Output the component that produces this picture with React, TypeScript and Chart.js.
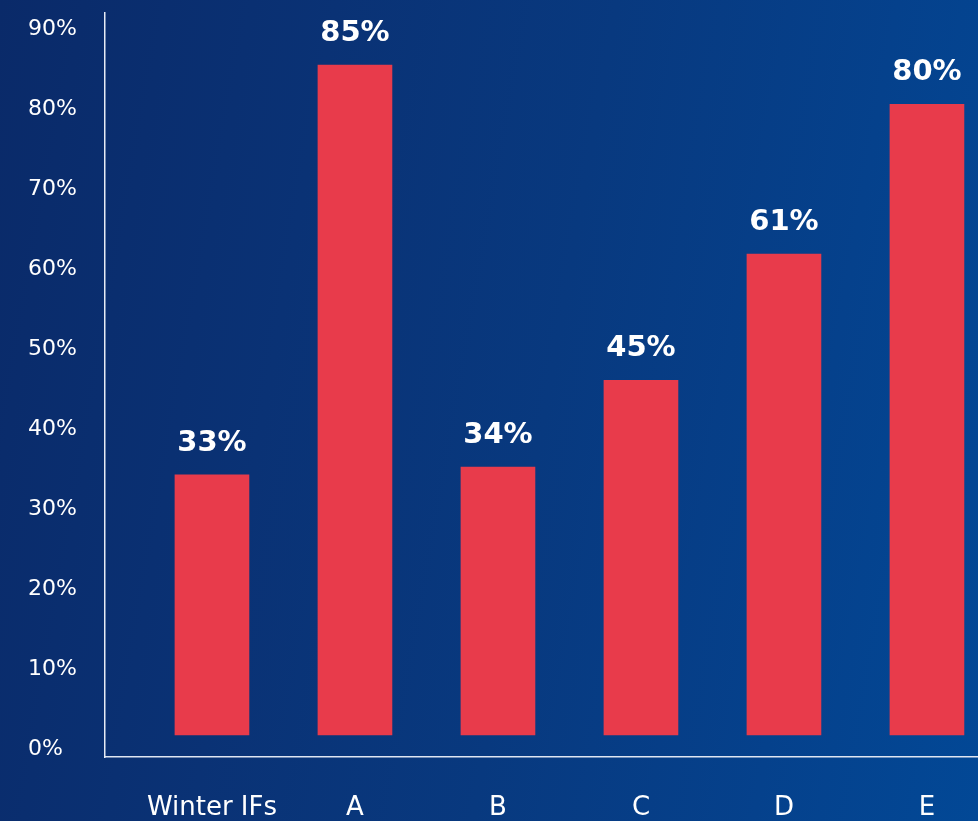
import React, { useEffect, useRef } from "react";
import { Chart, registerables } from "chart.js";

Chart.register(...registerables);

const categories = ["Winter IFs", "A", "B", "C", "D", "E"];
const values = [33, 85, 34, 45, 61, 80];
const tickValues = [0, 10, 20, 30, 40, 50, 60, 70, 80, 90];

const FONT = "'DejaVu Sans', sans-serif";

const dataLabelPlugin = {
  id: "dataLabels",
  afterDatasetsDraw(chart: any) {
    const ctx = chart.ctx;
    const meta = chart.getDatasetMeta(0);
    ctx.save();
    ctx.fillStyle = "#ffffff";
    ctx.font = `bold 29px ${FONT}`;
    ctx.textAlign = "center";
    ctx.textBaseline = "alphabetic";
    meta.data.forEach((bar: any, i: number) => {
      ctx.fillText(`${values[i]}%`, bar.x, bar.y - 24);
    });
    ctx.restore();
  },
};

export default function App() {
  const ref = useRef<HTMLCanvasElement | null>(null);

  useEffect(() => {
    document.body.style.margin = "0";
    const canvas = ref.current;
    if (!canvas) return;
    const chart = new Chart(canvas, {
      type: "bar",
      data: {
        datasets: [
          {
            data: categories.map((c, i) => ({ x: i, y: values[i] })),
            backgroundColor: "#E83B4B",
            barThickness: 74,
            xAxisID: "x",
            yAxisID: "yBar",
          },
        ],
      },
      plugins: [dataLabelPlugin],
      options: {
        animation: false,
        responsive: false,
        maintainAspectRatio: false,
        layout: { padding: { left: 28, top: 13, right: 0, bottom: 0 } },
        plugins: { legend: { display: false }, tooltip: { enabled: false } },
        scales: {
          x: {
            type: "linear",
            offset: false,
            min: -0.748,
            max: 5.357,
            grid: { display: false, drawTicks: false },
            border: { display: true, color: "#dfe6f2", width: 1.5 },
            afterBuildTicks: (axis: any) => {
              axis.ticks = categories.map((_, i) => ({ value: i }));
            },
            afterFit: (axis: any) => {
              axis.height = 64;
              axis.paddingLeft = 0;
              axis.paddingRight = 0;
            },
            ticks: {
              color: "#ffffff",
              font: { family: FONT, size: 26 },
              padding: 36,
              autoSkip: false,
              maxRotation: 0,
              callback: (v: any) => categories[v] ?? "",
            },
          },
          yBar: {
            type: "linear",
            display: false,
            min: -2.79,
            max: 91.6,
          },
          y: {
            type: "linear",
            position: "left",
            min: -1.0,
            max: 92.0,
            grid: { display: false, drawTicks: false },
            border: { display: true, color: "#e6ebf5", width: 1.5 },
            afterBuildTicks: (axis: any) => {
              axis.ticks = tickValues.map((v) => ({ value: v }));
            },
            afterFit: (axis: any) => {
              axis.width = 77;
              axis.paddingTop = 0;
              axis.paddingBottom = 0;
            },
            ticks: {
              color: "#ffffff",
              font: { family: FONT, size: 22 },
              crossAlign: "far",
              padding: 10,
              callback: (v: any) => `${v}%`,
            },
          },
        },
      },
    } as any);
    return () => chart.destroy();
  }, []);

  return (
    <div
      style={{
        position: "fixed",
        left: 0,
        top: 0,
        width: 978,
        height: 821,
        overflow: "hidden",
        background:
          "linear-gradient(100deg, #0a2a69 0%, #0a3275 30%, #08397f 55%, #05418c 80%, #024896 100%)",
      }}
    >
      <canvas ref={ref} width={978} height={821} style={{ display: "block" }} />
    </div>
  );
}
